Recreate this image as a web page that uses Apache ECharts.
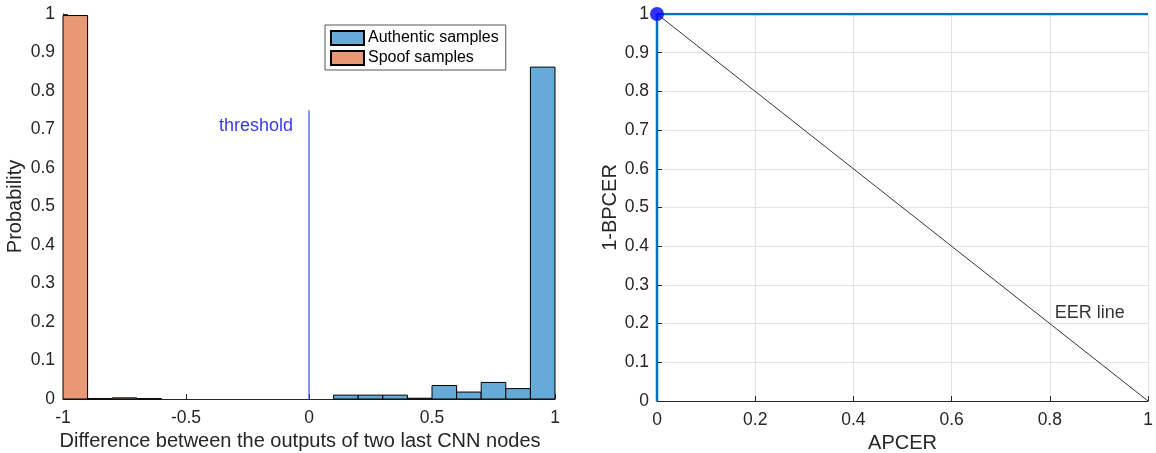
<!DOCTYPE html>
<html>
<head>
<meta charset="utf-8">
<script src="https://cdn.jsdelivr.net/npm/echarts@6/dist/echarts.min.js"></script>
<style>
html,body{margin:0;padding:0;background:#fff;}
#chart{width:1156px;height:453px;}
</style>
</head>
<body>
<div id="chart"></div>
<script>
// ---- Data ----
const spoofEdges = [-1, -0.9, -0.8, -0.7, -0.6];
const spoofProb = [0.996, 0.001, 0.003, 0.001];
const authEdges = [0.1, 0.2, 0.3, 0.4, 0.5, 0.6, 0.7, 0.8, 0.9, 1.0];
const authProb = [0.01, 0.01, 0.01, 0.002, 0.035, 0.018, 0.043, 0.027, 0.862];
const thresholdX = 0;
const thresholdTop = 0.75;
const histXTicks = [-1, -0.5, 0, 0.5, 1];
const rocAPCER = [0, 0, 1];
const rocOneMinusBPCER = [0, 1, 1];
const eerLineX = [0, 1];
const eerLineY = [1, 0];
const operatingPoint = [0, 1];
const seriesNames = ['Authentic samples', 'Spoof samples'];

// ---- Build ----
function binData(edges, probs) {
  return probs.map((p, i) => [edges[i], edges[i + 1], p]);
}
function renderBin(params, api) {
  const x0 = api.value(0), x1 = api.value(1), y = api.value(2);
  const a = api.coord([x0, y]);
  const b = api.coord([x1, 0]);
  return {
    type: 'rect',
    shape: { x: a[0], y: a[1], width: b[0] - a[0], height: b[1] - a[1] },
    style: api.style()
  };
}
const FONT = 'Liberation Sans, Arial, Helvetica, sans-serif';
const AX = '#262626';

const chart = echarts.init(document.getElementById('chart'), null, { renderer: 'canvas' });
const option = {
  animation: false,
  textStyle: { fontFamily: FONT },
  grid: [
    { left: 63, right: 601, top: 14, bottom: 54, containLabel: false, outerBoundsMode: 'none' },
    { left: 657, right: 8, top: 14, bottom: 52, containLabel: false, outerBoundsMode: 'none' }
  ],
  legend: {
    data: seriesNames.map(n => ({ name: n })),
    orient: 'vertical',
    left: 325, top: 25,
    icon: 'rect',
    itemWidth: 33, itemHeight: 14, itemGap: 4,
    padding: [5, 7, 4, 5],
    borderColor: '#555', borderWidth: 1,
    backgroundColor: '#fff',
    textStyle: { fontSize: 16, color: '#000', fontFamily: FONT, padding: [0, 0, 0, -1] },
    selectedMode: false
  },
  xAxis: [
    {
      gridIndex: 0, type: 'value', min: -1, max: 1, interval: 0.5,
      name: 'Difference between the outputs of two last CNN nodes',
      nameLocation: 'middle', nameGap: 32,
      nameTextStyle: { fontSize: 20, color: AX, padding: [0, 18, 0, 0] },
      axisLine: { onZero: false, lineStyle: { color: AX, width: 1 } },
      axisTick: { inside: true, length: 5, lineStyle: { color: AX } },
      axisLabel: { fontSize: 17.5, color: AX, margin: 10, formatter: v => histXTicks.includes(v) ? String(v) : '' },
      splitLine: { show: false }
    },
    {
      gridIndex: 1, type: 'value', min: 0, max: 1, interval: 0.2,
      name: 'APCER', nameLocation: 'middle', nameGap: 27,
      nameTextStyle: { fontSize: 20, color: AX },
      axisLine: { onZero: false, lineStyle: { color: AX, width: 1 } },
      axisTick: { inside: true, length: 5, lineStyle: { color: AX } },
      axisLabel: { fontSize: 17.5, color: AX, margin: 10 },
      splitLine: { show: true, lineStyle: { color: '#e3e3e3', width: 1 } }
    }
  ],
  yAxis: [
    {
      gridIndex: 0, type: 'value', min: 0, max: 1, interval: 0.1,
      name: 'Probability', nameLocation: 'middle', nameGap: 38,
      nameTextStyle: { fontSize: 20, color: AX },
      axisLine: { show: true, onZero: false, lineStyle: { color: AX, width: 1 } },
      axisTick: { show: true, inside: true, length: 5, lineStyle: { color: AX } },
      axisLabel: { fontSize: 17.5, color: AX, margin: 8 },
      splitLine: { show: false }
    },
    {
      gridIndex: 1, type: 'value', min: 0, max: 1, interval: 0.1,
      name: '1-BPCER', nameLocation: 'middle', nameGap: 27,
      nameTextStyle: { fontSize: 20, color: AX },
      axisLine: { show: true, onZero: false, lineStyle: { color: AX, width: 1 } },
      axisTick: { show: true, inside: true, length: 5, lineStyle: { color: AX } },
      axisLabel: { fontSize: 17.5, color: AX, margin: 8 },
      splitLine: { show: true, lineStyle: { color: '#e3e3e3', width: 1 } }
    }
  ],
  series: [
    {
      name: seriesNames[0], type: 'custom', xAxisIndex: 0, yAxisIndex: 0,
      renderItem: renderBin,
      encode: { x: [0, 1], y: 2 },
      itemStyle: { color: '#66AAD7', borderColor: '#000', borderWidth: 1 },
      data: binData(authEdges, authProb), z: 3
    },
    {
      name: seriesNames[1], type: 'custom', xAxisIndex: 0, yAxisIndex: 0,
      renderItem: renderBin,
      encode: { x: [0, 1], y: 2 },
      itemStyle: { color: '#E89875', borderColor: '#000', borderWidth: 1 },
      data: binData(spoofEdges, spoofProb), z: 3
    },
    {
      name: 'threshold', type: 'line', xAxisIndex: 0, yAxisIndex: 0,
      data: [[thresholdX, 0], [thresholdX, thresholdTop]],
      symbol: 'none', lineStyle: { color: 'rgba(60,60,255,0.75)', width: 1.5 },
      silent: true, z: 4
    },
    {
      name: 'thresholdLabel', type: 'scatter', xAxisIndex: 0, yAxisIndex: 0,
      data: [[thresholdX - 0.065, 0.71]], symbolSize: 0, silent: true,
      label: { show: true, position: 'left', distance: 0, formatter: 'threshold', color: '#0000ff', fontSize: 18, fontFamily: FONT }
    },
    {
      name: 'ROC', type: 'line', xAxisIndex: 1, yAxisIndex: 1,
      data: rocAPCER.map((x, i) => [x, rocOneMinusBPCER[i]]),
      symbol: 'none', lineStyle: { color: '#0072BD', width: 2.5 }, z: 5, silent: true
    },
    {
      name: 'EER', type: 'line', xAxisIndex: 1, yAxisIndex: 1,
      data: eerLineX.map((x, i) => [x, eerLineY[i]]),
      symbol: 'none', lineStyle: { color: '#000', width: 0.8 }, z: 4, silent: true
    },
    {
      name: 'EERLabel', type: 'scatter', xAxisIndex: 1, yAxisIndex: 1,
      data: [[0.81, 0.228]], symbolSize: 0, silent: true,
      label: { show: true, position: 'right', distance: 0, formatter: 'EER line', color: '#000', fontSize: 18, fontFamily: FONT }
    },
    {
      name: 'OP', type: 'scatter', xAxisIndex: 1, yAxisIndex: 1,
      data: [operatingPoint], symbol: 'circle', symbolSize: 14,
      itemStyle: { color: '#0000ff' }, z: 6, silent: true
    }
  ]
};
chart.setOption(option);
</script>
</body>
</html>
